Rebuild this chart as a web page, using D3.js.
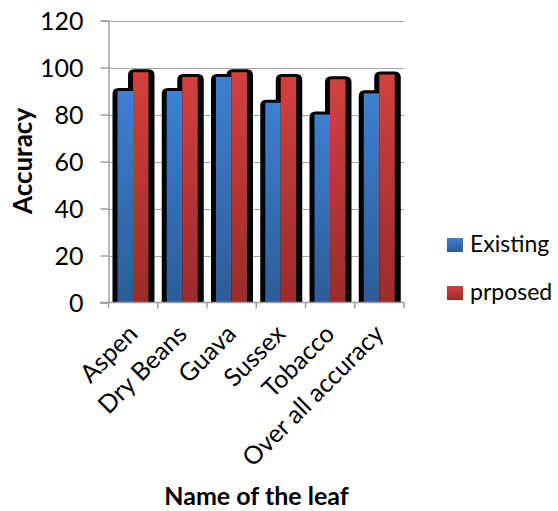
<!DOCTYPE html>
<html><head><meta charset="utf-8">
<script src="https://cdn.jsdelivr.net/npm/d3@7/dist/d3.min.js"></script>
<style>body{margin:0;background:#fff}svg{display:block}text{font-family:Lato,"Liberation Sans",sans-serif}</style>
</head><body>
<script>
const categories = ["Aspen","Dry Beans","Guava","Sussex","Tobacco","Over all accuracy"];
const existing = [90, 90, 96, 85, 80, 89];
const proposed = [98, 96, 98, 96, 95, 97];
const seriesNames = ["Existing","prposed"];
const yTicks = [0,20,40,60,80,100,120];

const W=558,H=511;
const svg=d3.select("body").append("svg").attr("width",W).attr("height",H);
const defs=svg.append("defs");
function grad(id,top,bot){const g=defs.append("linearGradient").attr("id",id).attr("x1",0).attr("y1",0).attr("x2",0).attr("y2",1);
 g.append("stop").attr("offset",0).attr("stop-color",top);g.append("stop").attr("offset",1).attr("stop-color",bot);}
grad("gB","#3e80d2","#2d5d98");grad("gR","#d3403e","#9b2b29");

const x0=d3.scaleBand().domain(categories).range([108.5,404]);
const x1=d3.scaleBand().domain(seriesNames).range([9,40]);
const y=d3.scaleLinear().domain([0,120]).range([302.5,20.5]);

svg.append("g").selectAll("line").data(yTicks.filter(d=>d>0)).join("line")
 .attr("x1",108.5).attr("x2",404).attr("y1",d=>Math.round(y(d))+0.5).attr("y2",d=>Math.round(y(d))+0.5)
 .attr("stroke","#a6a6a6").attr("stroke-width",1);

const data=categories.map((c,i)=>({c,vals:[existing[i],proposed[i]]}));
const groups=svg.append("g").selectAll("g").data(data).join("g").attr("transform",d=>`translate(${x0(d.c)},0)`);
groups.selectAll("path.sh").data(d=>d.vals.map((v,j)=>({v,j}))).join("path").attr("class","sh")
 .attr("fill","#000").attr("d",d=>{const xl=x1(seriesNames[d.j])-5, xr=x1(seriesNames[d.j])+x1.bandwidth()+6, yt=y(d.v)-3, yb=y(0), r=6;
   return `M${xl},${yb}V${yt+r}Q${xl},${yt} ${xl+r},${yt}H${xr-r}Q${xr},${yt} ${xr},${yt+r}V${yb}Z`;});
groups.selectAll("rect.b").data(d=>d.vals.map((v,j)=>({v,j}))).join("rect").attr("class","b")
 .attr("x",d=>x1(seriesNames[d.j])).attr("width",x1.bandwidth())
 .attr("y",d=>y(d.v)).attr("height",d=>y(0)-y(d.v))
 .attr("fill",d=>d.j===0?"url(#gB)":"url(#gR)");

const yAxis=d3.axisLeft(y).tickValues(yTicks).tickSize(8).tickPadding(10);
const yg=svg.append("g").attr("transform","translate(108.5,0)").call(yAxis);
yg.select(".domain").attr("stroke","#a0a0a0").attr("stroke-width",1.5);
yg.selectAll(".tick line").attr("stroke","#a0a0a0").attr("stroke-width",1.5);
yg.selectAll(".tick text").attr("font-size",25).attr("fill","#000").attr("font-family","Lato,sans-serif").attr("x",-25).attr("dy","0.36em");

const xg=svg.append("g").attr("transform","translate(0,302.5)");
xg.append("line").attr("x1",100).attr("x2",404).attr("stroke","#a0a0a0").attr("stroke-width",1.5);
xg.selectAll("line.t").data(categories.concat(["end"])).join("line").attr("class","t")
 .attr("x1",(d,i)=>i<categories.length?x0(d):404).attr("x2",(d,i)=>i<categories.length?x0(d):404)
 .attr("y1",0).attr("y2",6).attr("stroke","#a0a0a0").attr("stroke-width",1.5);
xg.selectAll("text").data(categories).join("text")
 .attr("transform",d=>`translate(${x0(d)+x0.bandwidth()/2+6},${33}) rotate(-45)`)
 .attr("text-anchor","end").attr("font-size",25).attr("fill","#000").text(d=>d);

svg.append("text").attr("transform","translate(32,161) rotate(-90)").attr("text-anchor","middle")
 .attr("font-size",26).attr("font-weight","bold").text("Accuracy");
svg.append("text").attr("x",256.5).attr("y",505).attr("text-anchor","middle")
 .attr("font-size",25).attr("font-weight","bold").text("Name of the leaf");

const lg=svg.append("g").selectAll("g").data(seriesNames).join("g").attr("transform",(d,i)=>`translate(447,${238+i*48})`);
lg.append("rect").attr("width",16).attr("height",14).attr("fill",(d,i)=>i===0?"url(#gB)":"url(#gR)");
lg.append("text").attr("x",23).attr("y",14).attr("font-size",23).text(d=>d);
</script>
</body></html>
